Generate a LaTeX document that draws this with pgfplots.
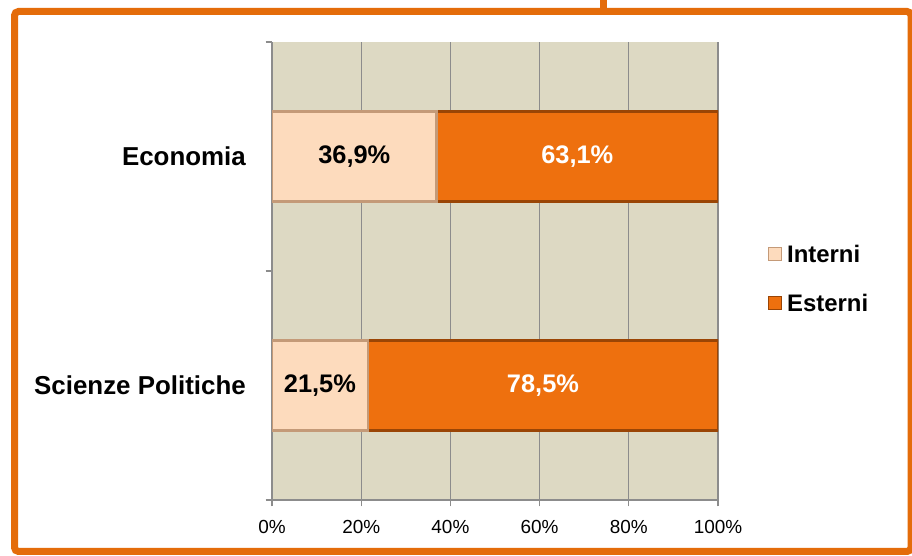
\documentclass[border=0pt]{standalone}
\usepackage{fontspec}
\setmainfont{Liberation Sans}
\usepackage{pgfplots}
\pgfplotsset{compat=1.18}
\definecolor{framecol}{HTML}{E46C0A}
\definecolor{bgcol}{HTML}{DDD9C3}
\definecolor{gridcol}{HTML}{8C8C8C}
\definecolor{intfill}{HTML}{FDDBBD}
\definecolor{intdraw}{HTML}{C49A78}
\definecolor{estfill}{HTML}{EE700E}
\definecolor{estdraw}{HTML}{9A4505}
\begin{document}
\begin{tikzpicture}[x=1bp,y=1bp]
\useasboundingbox (0,0) rectangle (912,556);
\fill[white] (0,0) rectangle (912,556);
\draw[framecol, line width=7bp, rounded corners=4bp] (14.5,4.5) rectangle (911,544.5);
\fill[framecol] (600.3,544.5) rectangle (607.3,556);
\begin{axis}[
  at={(272bp,56bp)}, anchor=south west, scale only axis,
  width=446bp, height=458bp,
  xbar stacked, bar width=90bp,
  xmin=0, xmax=100, ymin=-0.5, ymax=1.5,
  axis background/.style={fill=bgcol},
  axis x line*=bottom, axis y line*=left,
  axis line style={gridcol, line width=1.2bp},
  xtick={0,20,40,60,80,100},
  xticklabels={0\%,20\%,40\%,60\%,80\%,100\%},
  xticklabel style={font=\fontsize{19}{22}\selectfont, inner sep=0pt, yshift=-14bp},
  xmajorgrids, major grid style={gridcol, line width=1.2bp},
  tick align=outside, major tick length=6.5bp,
  tick style={gridcol, line width=1.2bp},
  ytick={-0.5,0.5,1.5}, yticklabels={},
  extra y ticks={0,1},
  extra y tick labels={Scienze Politiche,Economia},
  extra y tick style={major tick length=0pt,
    yticklabel style={font=\fontsize{26}{30}\selectfont\bfseries, inner sep=0pt, xshift=-26bp}},
  legend style={at={(1.112,0.483)}, anchor=west, draw=none, fill=none, inner sep=0pt,
    font=\fontsize{24}{28}\selectfont\bfseries, row sep=30bp, nodes={inner sep=0pt},
    /tikz/every odd column/.append style={column sep=5bp}},
  legend cell align=left,
  legend image code/.code={\draw[#1, line width=1bp] (0bp,-6.5bp) rectangle (13bp,6.5bp);},
]
\addplot[fill=intfill, draw=intdraw, line width=2.5bp] coordinates {(21.5,0) (36.9,1)};
\addplot[fill=estfill, draw=estdraw, line width=2.5bp] coordinates {(78.5,0) (63.1,1)};
\legend{Interni,Esterni}
\end{axis}
\begin{axis}[
  at={(272bp,56bp)}, anchor=south west, scale only axis,
  width=446bp, height=458bp,
  xmin=0, xmax=100, ymin=-0.5, ymax=1.5, hide axis,
  /pgf/number format/assume math mode=true,
]
\addplot[draw=none, point meta=explicit,
  nodes near coords={\pgfmathprintnumber[fixed,fixed zerofill,precision=1,use comma,assume math mode=true]{\pgfplotspointmeta}\%},
  every node near coord/.append style={anchor=center, font=\fontsize{25.5}{30}\selectfont\bfseries, text=black}]
  table[meta=m]{
x y m
10.75 0 21.5
18.45 1 36.9
};
\addplot[draw=none, point meta=explicit,
  nodes near coords={\pgfmathprintnumber[fixed,fixed zerofill,precision=1,use comma,assume math mode=true]{\pgfplotspointmeta}\%},
  every node near coord/.append style={anchor=center, font=\fontsize{25.5}{30}\selectfont\bfseries, text=white}]
  table[meta=m]{
x y m
60.75 0 78.5
68.45 1 63.1
};
\end{axis}
\end{tikzpicture}
\end{document}
